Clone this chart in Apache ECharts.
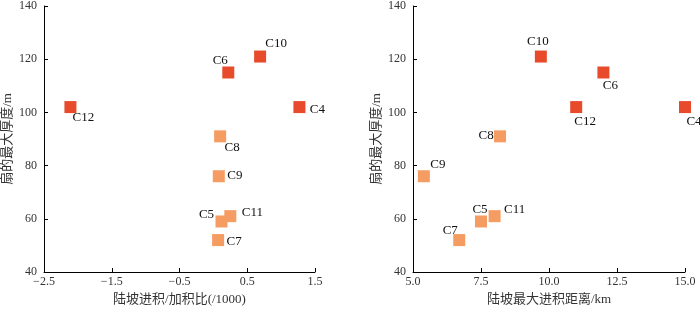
<!DOCTYPE html>
<html>
<head>
<meta charset="utf-8">
<script src="https://cdn.jsdelivr.net/npm/echarts@6/dist/echarts.min.js"></script>
<style>
  html, body { margin: 0; padding: 0; background: #fff; }
  #chart { width: 700px; height: 311px; }
</style>
</head>
<body>
<div id="chart"></div>
<script>
// 数据
var names = ['C4', 'C5', 'C6', 'C7', 'C8', 'C9', 'C10', 'C11', 'C12'];
var thickness = [102, 59, 115, 52, 91, 76, 121, 61, 102];
var ratio = [1.27, 0.12, 0.22, 0.07, 0.10, 0.08, 0.69, 0.25, -2.11];
var distance = [15.0, 7.5, 12.0, 6.7, 8.2, 5.4, 9.7, 8.0, 11.0];
var darkGroup = ['C4', 'C6', 'C10', 'C12'];
var ratioTicks = [-2.5, -1.5, -0.5, 0.5, 1.5];

// label offsets (px) per point, same order as names
var offsetsLeft = [[18, 2], [-15, -7], [-8, -12], [16, 1], [12, 11], [16, -1], [16, -13], [22, -4], [13, 10]];
var offsetsRight = [[9, 14], [-1, -12], [7, 13], [-9, -10], [-14, -1], [14, -12], [-3, -15], [20, -7], [9, 14]];

var darkColor = '#E84B2C';
var lightColor = '#F59C62';
var serif = '"Liberation Serif", "Noto Sans CJK SC", serif';

function buildData(xs, offsets, dark) {
    var out = [];
    for (var i = 0; i < names.length; i++) {
        var isDark = darkGroup.indexOf(names[i]) >= 0;
        if (isDark !== dark) continue;
        out.push({
            name: names[i],
            value: [xs[i], thickness[i]],
            label: { offset: offsets[i] }
        });
    }
    return out;
}

function series(idx, xs, offsets) {
    return [true, false].map(function (dark) {
        return {
            type: 'scatter',
            xAxisIndex: idx,
            yAxisIndex: idx,
            symbol: 'rect',
            symbolSize: 12,
            itemStyle: { color: dark ? darkColor : lightColor, opacity: 1 },
            label: {
                show: true,
                position: 'inside',
                formatter: '{b}',
                color: '#111',
                fontSize: 13,
                fontFamily: serif
            },
            data: buildData(xs, offsets, dark)
        };
    });
}

var axisCommon = {
    axisLine: { onZero: false, lineStyle: { color: '#000', width: 1 } },
    axisTick: { inside: true, length: 4, lineStyle: { color: '#000' } },
    splitLine: { show: false },
    axisLabel: { color: '#333', fontSize: 12, fontFamily: serif },
    nameTextStyle: { color: '#333', fontSize: 13, fontFamily: serif }
};

function yAxis(idx) {
    return echarts.util.merge({
        type: 'value',
        gridIndex: idx,
        min: 40,
        max: 140,
        interval: 20,
        name: '扇的最大厚度/m',
        nameLocation: 'middle',
        nameGap: 30,
        axisLabel: { margin: 7 }
    }, axisCommon, false);
}

var chartDom = document.getElementById('chart');
var myChart = echarts.init(chartDom);
var option = {
    animation: false,
    grid: [
        { left: 42, right: 385, top: 5, bottom: 34 },
        { left: 413, right: 15, top: 5, bottom: 34 }
    ],
    xAxis: [
        echarts.util.merge({
            type: 'value',
            gridIndex: 0,
            min: -2.5,
            max: 1.5,
            name: '陆坡进积/加积比(/1000)',
            nameLocation: 'middle',
            nameGap: 21,
            axisTick: { customValues: ratioTicks },
            axisLabel: {
                customValues: ratioTicks,
                margin: 4,
                formatter: function (v) { return String(v).replace('-', '\u2212'); }
            }
        }, axisCommon, false),
        echarts.util.merge({
            type: 'value',
            gridIndex: 1,
            min: 5,
            max: 15,
            interval: 2.5,
            name: '陆坡最大进积距离/km',
            nameLocation: 'middle',
            nameGap: 21,
            axisLabel: {
                margin: 4,
                formatter: function (v) { return v.toFixed(1); }
            }
        }, axisCommon, false)
    ],
    yAxis: [yAxis(0), yAxis(1)],
    series: series(0, ratio, offsetsLeft).concat(series(1, distance, offsetsRight))
};

option && myChart.setOption(option);
</script>
</body>
</html>
